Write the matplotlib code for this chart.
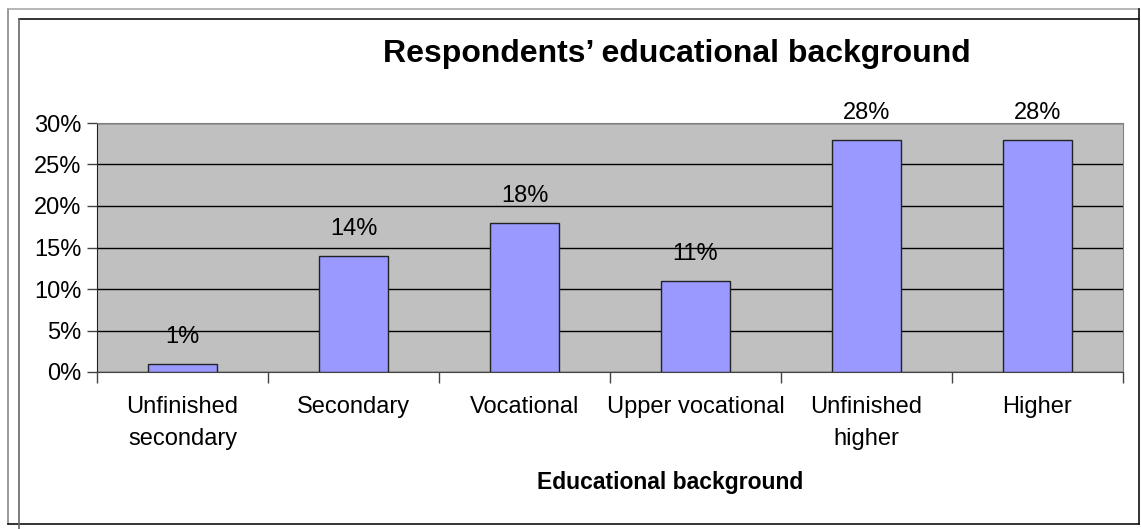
import numpy as np
import matplotlib.pyplot as plt
from matplotlib.lines import Line2D

plt.rcParams['font.family'] = ['Liberation Sans', 'DejaVu Sans']

categories = ["Unfinished\nsecondary", "Secondary", "Vocational",
              "Upper vocational", "Unfinished\nhigher", "Higher"]
shares = [1, 14, 18, 11, 28, 28]
yticks = [0, 5, 10, 15, 20, 25, 30]

W, H = 1141, 529
fig = plt.figure(figsize=(W / 100, H / 100), dpi=100)

# plot area in pixel coords
left, right, top, bottom = 97, 1123, 123, 372
ax = fig.add_axes([left / W, 1 - bottom / H, (right - left) / W, (bottom - top) / H])
ax.set_facecolor('#C0C0C0')

x = np.arange(len(categories))
ax.bar(x, shares, width=0.4, color='#9999FF', edgecolor='#222222', linewidth=1, zorder=3)
for xi, v in zip(x, shares):
    ax.text(xi, v + 1.9, f"{v}%", ha='center', va='bottom', fontsize=17, zorder=4)

ax.set_xlim(-0.5, len(categories) - 0.5)
ax.set_ylim(0, 30)
ax.set_yticks(yticks)
ax.set_yticklabels([f"{t}%" for t in yticks], fontsize=17)
ax.yaxis.grid(True, color='black', linewidth=1, zorder=1)
ax.set_axisbelow(True)

# category labels between boundary ticks
ax.set_xticks(x)
ax.set_xticklabels(categories, fontsize=17, linespacing=1.6)
ax.tick_params(axis='x', length=0, pad=17)
ax.set_xticks(np.arange(-0.5, len(categories)), minor=True)
ax.tick_params(axis='x', which='minor', length=8, width=1, color='#444444', direction='out')
ax.tick_params(axis='y', length=7, width=1, color='#444444', pad=4)

for side in ['top', 'right']:
    ax.spines[side].set_color('#808080')
ax.spines['left'].set_color('#222222')
ax.spines['bottom'].set_color('#444444')

fig.text(670 / W, 1 - 483 / H, "Educational background",
         ha='center', va='center', fontsize=16.5, fontweight='bold')
fig.text(677 / W, 1 - 54 / H, "Respondents\u2019 educational background",
         ha='center', va='center', fontsize=23, fontweight='bold')

# chart frame
def px_line(xs, ys, color, lw=1.2):
    fig.add_artist(Line2D([v / W for v in xs], [1 - v / H for v in ys],
                          color=color, linewidth=lw, transform=fig.transFigure))

px_line([8, 8], [9, 524], '#888888')
px_line([8, 1139], [9, 9], '#AAAAAA')
px_line([19, 1139], [19, 19], '#111111')
px_line([1139, 1139], [9, 524], '#111111')
px_line([8, 1139], [524, 524], '#111111')
px_line([19, 19], [19, 529], '#666666')

fig.savefig("out.png", dpi=100)
